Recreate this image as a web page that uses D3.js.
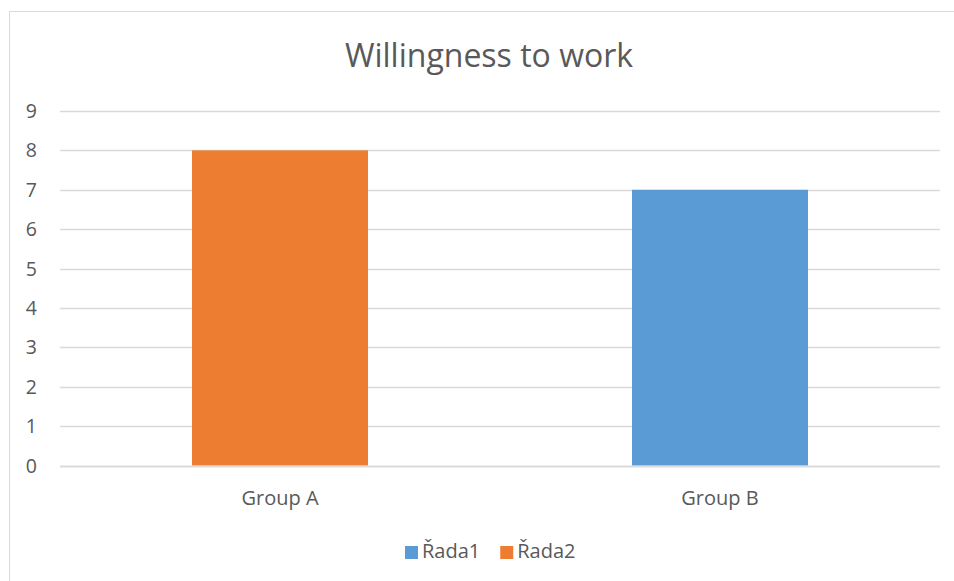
<!DOCTYPE html>
<html>
<head>
<meta charset="utf-8">
<script src="https://cdn.jsdelivr.net/npm/d3@7"></script>
<style>
  html, body { margin: 0; padding: 0; background: #fff; }
  svg { display: block; }
  text { font-family: "Open Sans", Lato, sans-serif; fill: #595959; }
</style>
</head>
<body>
<svg id="chart" width="954" height="581"></svg>
<script>
// chart data
var title = 'Willingness to work';
var categories = ['Group A', 'Group B'];
var seriesNames = ['Řada1', 'Řada2'];
var series1 = [null, 7];
var series2 = [8, null];
var yTicks = [0, 1, 2, 3, 4, 5, 6, 7, 8, 9];

var colors = ['#5B9BD5', '#ED7D31'];
var svg = d3.select('#chart');

// chart area border (runs off the right and bottom edges)
svg.append('rect')
  .attr('x', 9.5).attr('y', 11.5)
  .attr('width', 1000).attr('height', 1000)
  .attr('fill', 'none')
  .attr('stroke', '#D9D9D9');

var x = d3.scaleBand()
  .domain(categories)
  .range([60, 940])
  .paddingInner(0.6)
  .paddingOuter(0.3);

var y = d3.scaleLinear()
  .domain([0, 9])
  .range([465.5, 111]);

// gridlines
svg.append('g').selectAll('line')
  .data(yTicks)
  .enter().append('line')
    .attr('x1', 60).attr('x2', 940)
    .attr('y1', function(d){ return Math.round(y(d)) + 0.5; })
    .attr('y2', function(d){ return Math.round(y(d)) + 0.5; })
    .attr('stroke', '#D9D9D9')
    .attr('stroke-width', 1.3);

// y tick labels
svg.append('g').selectAll('text')
  .data(yTicks)
  .enter().append('text')
    .attr('x', 37)
    .attr('y', function(d){ return y(d) + 7; })
    .attr('text-anchor', 'end')
    .style('font-size', '19.5px')
    .text(function(d){ return d; });

// bars, series overlap fully inside each category
[series1, series2].forEach(function(values, s){
  svg.append('g').selectAll('rect')
    .data(values.map(function(v, i){ return {cat: categories[i], v: v}; })
      .filter(function(d){ return d.v != null; }))
    .enter().append('rect')
      .attr('x', function(d){ return x(d.cat); })
      .attr('width', x.bandwidth())
      .attr('y', function(d){ return y(d.v); })
      .attr('height', function(d){ return y(0) - y(d.v); })
      .attr('fill', colors[s]);
});

// baseline redrawn over bars
svg.append('line')
  .attr('x1', 60).attr('x2', 940)
  .attr('y1', Math.round(y(0)) + 0.5).attr('y2', Math.round(y(0)) + 0.5)
  .attr('stroke', '#D9D9D9')
  .attr('stroke-width', 1.3);

// category labels
svg.append('g').selectAll('text')
  .data(categories)
  .enter().append('text')
    .attr('x', function(d){ return x(d) + x.bandwidth() / 2; })
    .attr('y', 505)
    .attr('text-anchor', 'middle')
    .style('font-size', '20px')
    .text(function(d){ return d; });

// title
svg.append('text')
  .attr('x', 489)
  .attr('y', 67)
  .attr('text-anchor', 'middle')
  .style('font-size', '32px')
  .text(title);

// legend
var legend = svg.append('g').attr('transform', 'translate(405,558)');
var lx = 0;
seriesNames.forEach(function(name, i){
  var item = legend.append('g').attr('transform', 'translate(' + lx + ',0)');
  item.append('rect')
    .attr('x', 0).attr('y', -12)
    .attr('width', 13).attr('height', 13)
    .attr('fill', colors[i]);
  var t = item.append('text')
    .attr('x', 17).attr('y', 0)
    .style('font-size', '20px')
    .text(name);
  lx += 17 + t.node().getComputedTextLength() + 20;
});
</script>
</body>
</html>
